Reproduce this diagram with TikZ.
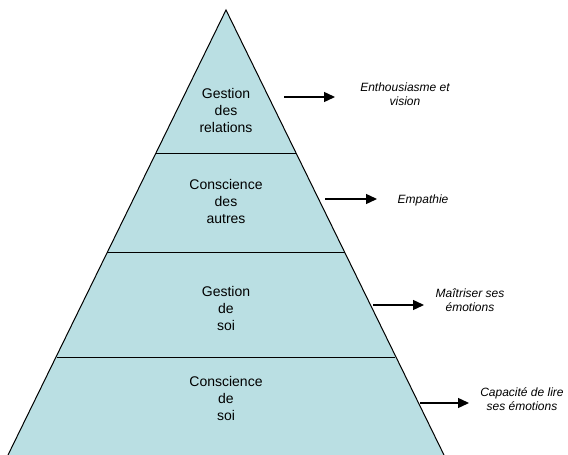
\documentclass[tikz,border=0pt]{standalone}
\usepackage{fontspec}
\setmainfont{Liberation Sans}
\usetikzlibrary{arrows.meta}
\definecolor{layerfill}{HTML}{BADFE3}
\tikzset{
  layertext/.style={align=center, font=\fontsize{14}{17}\selectfont, inner sep=0pt},
  notetext/.style={align=center, font=\fontsize{12}{13.5}\selectfont\itshape, inner sep=0pt},
  pointer/.style={line width=1.4pt, -{Triangle[length=11pt,width=10pt]}},
  edge/.style={line width=1pt},
}
\begin{document}
\begin{tikzpicture}[x=1pt,y=-1pt]
\useasboundingbox (0,0) rectangle (568,455);
% pyramid outline (cut by the lower border)
\coordinate (apex) at (226,10);
\coordinate (bl) at (8,455);
\coordinate (br) at (444,455);
\fill[layerfill] (apex) -- (bl) -- (br) -- cycle;
\draw[edge] (bl) -- (apex) -- (br);
% layer separators
\draw[edge] (156,153) -- (296,153);
\draw[edge] (107,252) -- (345,252);
\draw[edge] (57,357) -- (395,357);
% layer captions
\node[layertext] (l1) at (226,110) {Gestion\\des\\relations};
\node[layertext] (l2) at (226,201) {Conscience\\des\\autres};
\node[layertext] (l3) at (226,308) {Gestion\\de\\soi};
\node[layertext] (l4) at (226,398) {Conscience\\de\\soi};
% side notes
\node[notetext] (n1) at (405,94) {Enthousiasme et\\vision};
\node[notetext] (n2) at (423,200) {Empathie};
\node[notetext] (n3) at (470,300) {Maîtriser ses\\émotions};
\node[notetext] (n4) at (522,399) {Capacité de lire\\ses émotions};
% arrows
\coordinate (a1s) at (284,97);  \coordinate (a1e) at (335,97);
\coordinate (a2s) at (325,199); \coordinate (a2e) at (377,199);
\coordinate (a3s) at (373,305); \coordinate (a3e) at (424,305);
\coordinate (a4s) at (420,403); \coordinate (a4e) at (469,403);
\draw[pointer] (a1s) -- (a1e);
\draw[pointer] (a2s) -- (a2e);
\draw[pointer] (a3s) -- (a3e);
\draw[pointer] (a4s) -- (a4e);
\end{tikzpicture}
\end{document}
